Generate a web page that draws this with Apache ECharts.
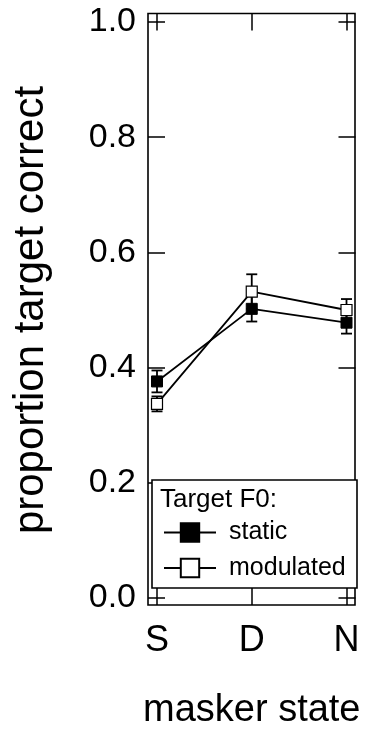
<!DOCTYPE html>
<html><head><meta charset="utf-8">
<script src="https://cdn.jsdelivr.net/npm/echarts@6/dist/echarts.min.js"></script>
<style>html,body{margin:0;padding:0;background:#fff}#c{width:372px;height:730px}</style>
</head><body><div id="c"></div>
<script>
const categories = ['S', 'D', 'N'];
const staticMean = [0.376, 0.502, 0.478];
const staticErr = [0.019, 0.022, 0.019];
const modulatedMean = [0.337, 0.532, 0.500];
const modulatedErr = [0.013, 0.030, 0.019];
const yTickLabels = ['0.0', '0.2', '0.4', '0.6', '0.8', '1.0'];
const seriesNames = ['static', 'modulated'];
const legendTitle = 'Target F0:';
const xTitle = 'masker state';
const yTitle = 'proportion target correct';

const FONT = '"Liberation Sans", Arial, sans-serif';
const chart = echarts.init(document.getElementById('c'), null, {renderer: 'canvas'});

function pts(means) { return means.map((v, i) => [i, v]); }
function errData(means, errs) { return means.map((v, i) => [i, v - errs[i], v + errs[i]]); }
function errRender(params, api) {
  const x = api.value(0);
  const lo = api.coord([x, api.value(1)]);
  const hi = api.coord([x, api.value(2)]);
  const hw = 5.5;
  const st = {stroke: '#000', lineWidth: 1.8};
  return {type: 'group', children: [
    {type: 'line', shape: {x1: lo[0], y1: lo[1], x2: hi[0], y2: hi[1]}, style: st},
    {type: 'line', shape: {x1: lo[0] - hw, y1: lo[1], x2: lo[0] + hw, y2: lo[1]}, style: st},
    {type: 'line', shape: {x1: hi[0] - hw, y1: hi[1], x2: hi[0] + hw, y2: hi[1]}, style: st}
  ]};
}

const tickStyle = {show: true, inside: true, length: 17, lineStyle: {color: '#000', width: 1.5}};
const noLine = {show: false, onZero: false};

chart.setOption({
  animation: false,
  backgroundColor: '#fff',
  grid: {left: 157, right: 25.5, top: 22, bottom: 132, containLabel: false, outerBoundsMode: 'none'},
  xAxis: [
    {type: 'value', min: 0, max: 2, interval: 1, position: 'bottom', offset: 7,
     axisLine: noLine, axisTick: tickStyle, splitLine: {show: false},
     axisLabel: {formatter: v => categories[v] || '', fontSize: 36, fontFamily: FONT, color: '#000', margin: 18},
     name: xTitle, nameLocation: 'middle', nameGap: 87,
     nameTextStyle: {fontSize: 38, fontFamily: FONT, color: '#000'}},
    {type: 'value', min: 0, max: 2, interval: 1, position: 'top', offset: 8.5,
     axisLine: noLine, axisTick: tickStyle, splitLine: {show: false}, axisLabel: {show: false}}
  ],
  yAxis: [
    {type: 'value', min: 0, max: 1, interval: 0.2, position: 'left', offset: 9,
     axisLine: noLine, axisTick: tickStyle, splitLine: {show: false},
     axisLabel: {formatter: (v) => yTickLabels[Math.round(v * 5)], fontSize: 34, fontFamily: FONT, color: '#000', margin: 12},
     name: yTitle, nameLocation: 'middle', nameGap: 96, nameRotate: 90,
     nameTextStyle: {fontSize: 42, fontFamily: FONT, color: '#000'}},
    {type: 'value', min: 0, max: 1, interval: 0.2, position: 'right', offset: 9,
     axisLine: noLine, axisTick: tickStyle, splitLine: {show: false}, axisLabel: {show: false}}
  ],
  legend: {
    data: seriesNames, orient: 'vertical', left: 163, top: 520, padding: 0,
    itemWidth: 52, itemHeight: 23, itemGap: 10.5, selectedMode: false, z: 6,
    textStyle: {fontSize: 25, fontFamily: FONT, color: '#000', padding: [0, 0, 0, 8]}
  },
  graphic: [
    {type: 'rect', z: 1, silent: true, shape: {x: 148, y: 13.5, width: 207, height: 591.5},
     style: {fill: 'none', stroke: '#000', lineWidth: 1.6}},
    {type: 'rect', z: 5, silent: true, shape: {x: 152, y: 480, width: 205, height: 108},
     style: {fill: '#fff', stroke: '#000', lineWidth: 1.6}},
    {type: 'text', z: 6, silent: true, x: 160, y: 500,
     style: {text: legendTitle, fontSize: 26, fontFamily: FONT, fill: '#000', align: 'left', verticalAlign: 'middle'}}
  ],
  series: [
    {type: 'custom', name: 'static-err', renderItem: errRender, data: errData(staticMean, staticErr), z: 2,
     encode: {x: 0, y: [1, 2]}, silent: true},
    {type: 'line', name: seriesNames[0], data: pts(staticMean), z: 3,
     symbol: 'rect', symbolSize: 11,
     itemStyle: {color: '#000', borderColor: '#000', borderWidth: 1},
     lineStyle: {color: '#000', width: 1.8}},
    {type: 'custom', name: 'modulated-err', renderItem: errRender, data: errData(modulatedMean, modulatedErr), z: 4,
     encode: {x: 0, y: [1, 2]}, silent: true},
    {type: 'line', name: seriesNames[1], data: pts(modulatedMean), z: 4,
     symbol: 'rect', symbolSize: 11,
     itemStyle: {color: '#fff', borderColor: '#000', borderWidth: 1.2},
     lineStyle: {color: '#000', width: 1.8}}
  ]
});
</script></body></html>
